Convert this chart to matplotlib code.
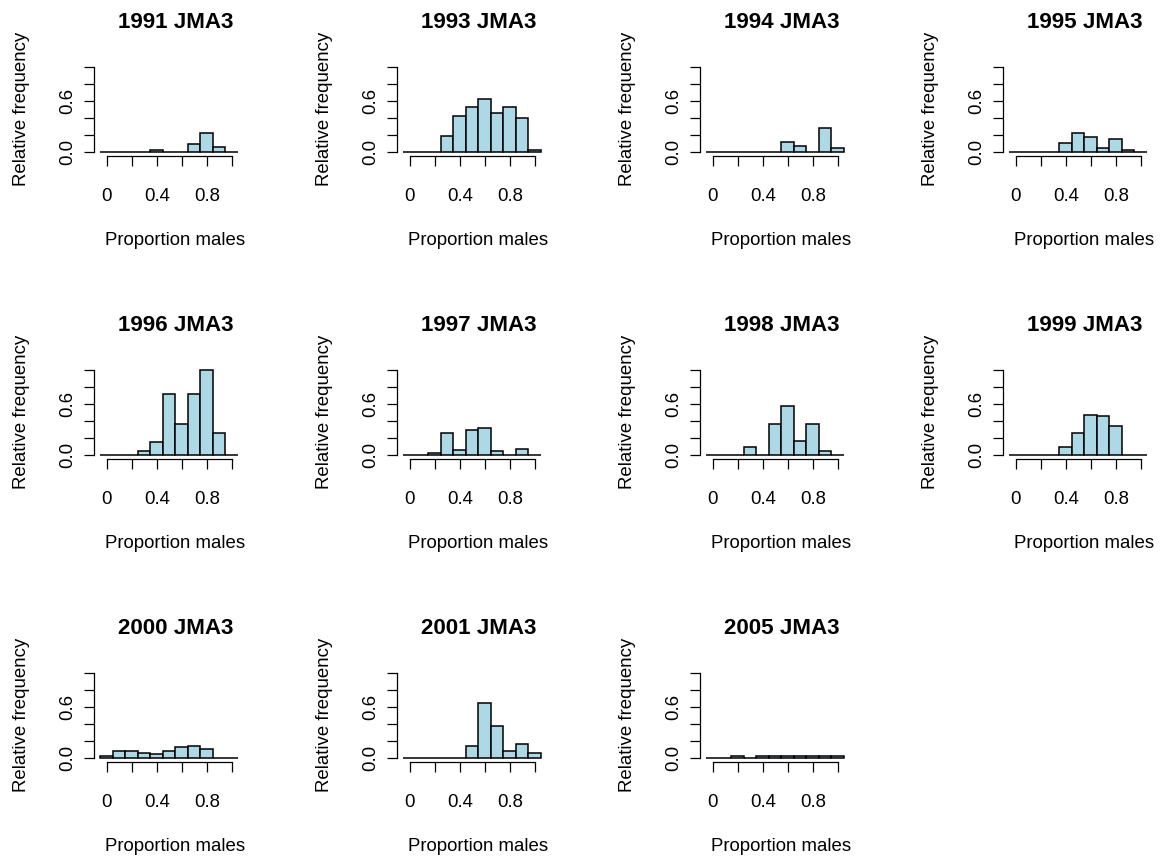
import numpy as np
import matplotlib.pyplot as plt

plt.rcParams['font.family'] = ['Liberation Sans', 'DejaVu Sans']

# relative frequency of the proportion of males, bins centred on 0, 0.1, ..., 1.0
bin_mids = [0.0, 0.1, 0.2, 0.3, 0.4, 0.5, 0.6, 0.7, 0.8, 0.9, 1.0]

years = ['1991', '1993', '1994', '1995', '1996', '1997',
         '1998', '1999', '2000', '2001', '2005']

freq_1991 = [0, 0, 0, 0, 0.02, 0, 0, 0.09, 0.22, 0.05, 0]
freq_1993 = [0, 0, 0, 0.18, 0.42, 0.53, 0.62, 0.46, 0.53, 0.40, 0.02]
freq_1994 = [0, 0, 0, 0, 0, 0, 0.11, 0.067, 0, 0.28, 0.047]
freq_1995 = [0, 0, 0, 0, 0.106, 0.216, 0.176, 0.047, 0.153, 0.024, 0]
freq_1996 = [0, 0, 0, 0.047, 0.154, 0.72, 0.36, 0.72, 1.0, 0.256, 0]
freq_1997 = [0, 0, 0.02, 0.256, 0.06, 0.295, 0.32, 0.04, 0, 0.067, 0]
freq_1998 = [0, 0, 0, 0.087, 0, 0.36, 0.575, 0.165, 0.36, 0.04, 0]
freq_1999 = [0, 0, 0, 0, 0.087, 0.256, 0.47, 0.45, 0.34, 0, 0]
freq_2000 = [0.02, 0.08, 0.08, 0.06, 0.04, 0.08, 0.128, 0.143, 0.10, 0, 0]
freq_2001 = [0, 0, 0, 0, 0, 0.143, 0.643, 0.372, 0.08, 0.167, 0.06]
freq_2005 = [0, 0, 0.02, 0, 0.015, 0.015, 0.015, 0.015, 0.015, 0.015, 0.015]

all_freq = [freq_1991, freq_1993, freq_1994, freq_1995, freq_1996, freq_1997,
            freq_1998, freq_1999, freq_2000, freq_2001, freq_2005]

xticks = [0, 0.2, 0.4, 0.6, 0.8, 1.0]
xticklabels = ['0', '', '0.4', '', '0.8', '']
yticks = [0, 0.2, 0.4, 0.6, 0.8, 1.0]
yticklabels = ['0.0', '', '', '0.6', '', '']

W, H, DPI = 1160, 859, 100
fig = plt.figure(figsize=(W / DPI, H / DPI), dpi=DPI)

# panel layout in pixels
sx, sy = 125.0, 85.0          # pixels per data unit
xlo, xhi = -0.1, 1.2
ylo, yhi = -0.055, 1.2
fs = 13.4

for k, (yr, freq) in enumerate(zip(years, all_freq)):
    r, c = divmod(k, 4)
    x0 = 106.7 + 303 * c
    y0 = 151.7 + 303 * r
    left = x0 + xlo * sx
    right = x0 + xhi * sx
    bottom = y0 - ylo * sy
    top = y0 - yhi * sy
    ax = fig.add_axes([left / W, 1 - bottom / H, (right - left) / W, (bottom - top) / H])
    ax.set_facecolor('none')

    ax.bar(bin_mids, freq, width=0.1, color='lightblue', edgecolor='black',
           linewidth=1.1, clip_on=False)

    ax.set_xlim(xlo, xhi)
    ax.set_ylim(ylo, yhi)
    for s in ['top', 'right']:
        ax.spines[s].set_visible(False)
    ax.spines['left'].set_bounds(0, 1)
    ax.spines['bottom'].set_bounds(0, 1)
    ax.spines['left'].set_linewidth(0.9)
    ax.spines['bottom'].set_linewidth(0.9)

    ax.set_xticks(xticks)
    ax.set_xticklabels(xticklabels)
    ax.set_yticks(yticks)
    ax.set_yticklabels(yticklabels, rotation=90, va='center')
    ax.tick_params(axis='x', length=7.2, width=0.9, pad=15.5, labelsize=fs)
    ax.tick_params(axis='y', length=7.2, width=0.9, pad=6, labelsize=fs)

    ax.text(0.55, 124 / sy, yr + ' JMA3', ha='center', va='baseline',
            fontsize=fs * 1.2, fontweight='bold')

    ax.set_xlabel('Proportion males', fontsize=fs)
    ax.xaxis.label.set_va('baseline')
    ax.xaxis.set_label_coords(0.55, -93 / sy, transform=ax.transData)

    ax.set_ylabel('Relative frequency', fontsize=fs)
    ax.yaxis.label.set_va('baseline')
    ax.yaxis.set_label_coords(-80.5 / sx, 0.5, transform=ax.transData)

fig.savefig('out.png', dpi=DPI)
